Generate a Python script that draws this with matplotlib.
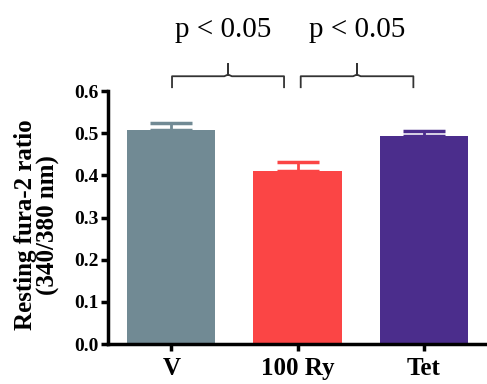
import matplotlib
matplotlib.use('Agg')
import matplotlib.pyplot as plt

# data
groups = ['V', '100 Ry', 'Tet']
means = [0.507, 0.410, 0.493]
errs = [0.018, 0.021, 0.012]
colors = ['#718a94', '#fb4545', '#4b2d8c']
p_labels = ['p < 0.05', 'p < 0.05']

plt.rcParams['font.family'] = ['Liberation Serif', 'DejaVu Serif']

fig = plt.figure(figsize=(4.87, 3.84), dpi=100)
ax = fig.add_axes([0.222, 0.104, 0.778, 0.659])

x = range(len(groups))
ax.bar(x, means, width=0.70, color=colors, zorder=2)
for xi, m, e, c in zip(x, means, errs, colors):
    ax.errorbar(xi, m, yerr=[[0], [e]], color=c, capsize=15, capthick=2.5,
                elinewidth=2, zorder=1)

ax.set_xlim(-0.5, 2.5)
ax.set_ylim(0, 0.6)
ax.set_yticks([0, 0.1, 0.2, 0.3, 0.4, 0.5, 0.6])
ax.set_yticklabels(['0.0', '0.1', '0.2', '0.3', '0.4', '0.5', '0.6'],
                   fontsize=14, fontweight='bold')
ax.set_xticks(list(x))
ax.set_xticklabels(groups, fontsize=18, fontweight='bold')
ax.tick_params(axis='both', direction='out', length=5, width=2.5, pad=2)
ax.tick_params(axis='x', pad=4)

for s in ['top', 'right']:
    ax.spines[s].set_visible(False)
for s in ['left', 'bottom']:
    ax.spines[s].set_linewidth(2.5)

ax.set_ylabel('Resting fura-2 ratio\n(340/380 nm)', fontsize=18,
              fontweight='bold', linespacing=0.95)
ax.yaxis.set_label_coords(-0.128, 0.47)


# significance brackets
def bracket(x0, x1, xm, y_end, y_bar, y_tip):
    xs = [x0, x0, xm - 0.03, xm, xm, xm, xm + 0.03, x1, x1]
    ys = [y_end, y_bar, y_bar, y_bar + 0.004, y_tip, y_bar + 0.004, y_bar, y_bar, y_end]
    ax.plot(xs, ys, color='#333333', lw=1.3, clip_on=False)


bracket(0.006, 0.893, 0.45, 0.609, 0.635, 0.664)
bracket(1.025, 1.917, 1.47, 0.609, 0.635, 0.664)
ax.text(0.41, 0.745, p_labels[0], fontsize=21, ha='center', va='center', clip_on=False)
ax.text(1.47, 0.745, p_labels[1], fontsize=21, ha='center', va='center', clip_on=False)

fig.savefig('out.png', dpi=100)
